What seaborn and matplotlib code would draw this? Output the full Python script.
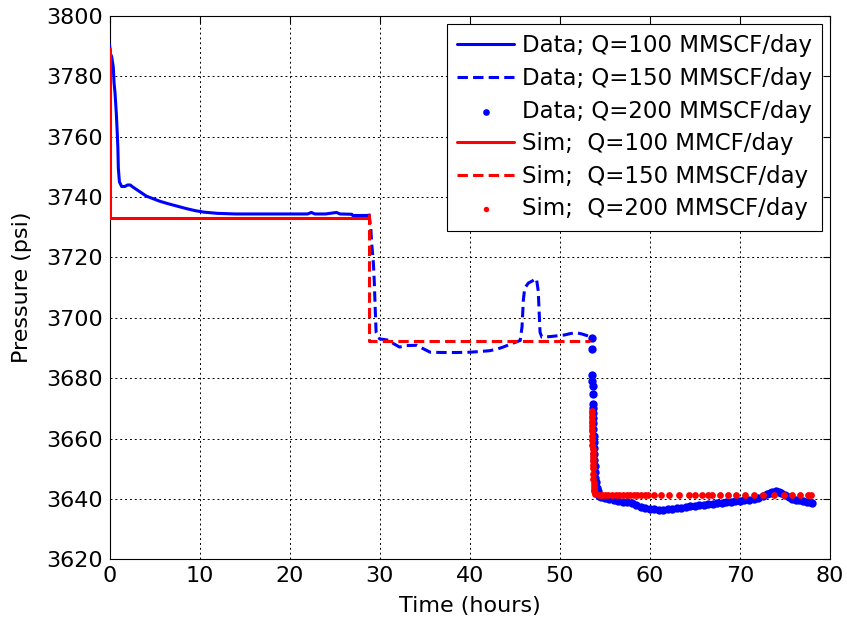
import matplotlib
matplotlib.use("Agg")
import matplotlib.pyplot as plt
import numpy as np
import pandas as pd
import seaborn as sns

# ---- measured pressure, Q = 100 MMSCF/day ----
data100_t = [0.0, 0.1, 0.24, 0.42, 0.5, 0.61, 0.75, 0.87, 0.93, 0.98, 1.1, 1.35,
             1.7, 2.0, 2.3, 2.6, 3.0, 3.5, 4.1, 4.8, 5.6, 6.5, 7.5, 8.5, 9.5,
             10.5, 12.0, 14.0, 16.0, 18.0, 20.0, 22.0, 22.4, 22.8, 24.0, 25.2,
             25.6, 26.9, 27.0, 28.0, 28.8]
data100_p = [3790.5, 3787.5, 3786.5, 3783.0, 3778.0, 3774.5, 3768.0, 3760.5,
             3756.0, 3749.5, 3745.0, 3743.5, 3743.5, 3744.0, 3744.0, 3743.3,
             3742.5, 3741.5, 3740.3, 3739.5, 3738.6, 3737.8, 3737.0, 3736.2,
             3735.5, 3735.0, 3734.6, 3734.4, 3734.4, 3734.4, 3734.4, 3734.4,
             3734.9, 3734.4, 3734.4, 3734.9, 3734.4, 3734.3, 3733.9, 3733.9,
             3733.9]

# ---- measured pressure, Q = 150 MMSCF/day ----
data150_t = [28.8, 29.0, 29.1, 29.3, 29.4, 29.5, 29.6, 30.0, 30.5, 31.1, 31.5,
             32.2, 33.0, 34.1, 35.0, 35.6, 37.0, 38.5, 40.0, 41.0, 42.2, 43.0,
             43.7, 44.8, 45.6, 45.8, 45.95, 46.1, 46.5, 47.06, 47.4, 47.6, 47.8,
             48.0, 49.0, 49.6, 50.5, 51.2, 51.9, 52.5, 53.0, 53.55]
data150_p = [3734.5, 3730.0, 3725.0, 3718.0, 3711.6, 3703.0, 3695.2, 3693.0,
             3692.8, 3692.5, 3691.5, 3690.3, 3690.8, 3690.9, 3689.5, 3688.6,
             3688.5, 3688.5, 3688.6, 3688.8, 3689.1, 3689.6, 3690.3, 3691.6,
             3692.5, 3697.0, 3706.0, 3709.8, 3711.5, 3712.4, 3713.0, 3708.9,
             3695.2, 3693.6, 3693.8, 3694.0, 3694.3, 3694.8, 3695.0, 3694.6,
             3694.1, 3693.4]

# ---- measured pressure, Q = 200 MMSCF/day ----
data200_t = [53.6, 53.6, 53.62, 53.62, 53.63, 53.64, 53.65, 53.66, 53.67, 53.68,
             53.7, 53.72, 53.74, 53.76, 53.78, 53.8, 53.83, 53.86, 53.9, 53.95,
             54.0, 54.1, 54.2,
             54.3, 54.6, 55.0, 55.5, 56.0, 56.5, 57.0, 57.5, 58.0, 58.5, 59.0,
             59.5, 60.0, 60.5, 61.0, 61.5, 62.0, 62.5, 63.0, 63.5, 64.0, 64.5,
             65.0, 65.5, 66.0, 66.5, 67.0, 67.5, 68.0, 68.5, 69.0, 69.5, 70.0,
             70.5, 71.0, 71.5, 72.0, 72.5, 73.0, 73.3, 73.6, 74.0, 74.3, 74.6,
             75.0, 75.4, 75.8, 76.2, 76.6, 77.0, 77.4, 77.8, 78.0]
data200_p = [3693.2, 3689.7, 3681.0, 3679.0, 3677.5, 3674.6, 3671.5, 3670.2,
             3668.5, 3666.8, 3665.0, 3663.0, 3661.0, 3659.0, 3657.0, 3655.0,
             3653.0, 3651.0, 3649.0, 3647.0, 3645.5, 3643.5, 3642.5,
             3641.0, 3640.6, 3640.3, 3640.0, 3639.6, 3639.2, 3639.1, 3639.0,
             3638.6, 3637.9, 3637.3, 3636.9, 3636.6, 3636.5, 3636.4, 3636.3,
             3636.5, 3636.7, 3636.9, 3637.1, 3637.3, 3637.5, 3637.7, 3637.9,
             3638.0, 3638.2, 3638.4, 3638.6, 3638.8, 3638.9, 3639.0, 3639.2,
             3639.3, 3639.5, 3639.7, 3639.9, 3640.2, 3640.8, 3641.6, 3642.1,
             3642.4, 3642.5, 3642.3, 3641.8, 3641.2, 3640.6, 3640.1, 3639.8,
             3639.5, 3639.3, 3639.1, 3638.9, 3638.8]

# ---- simulated pressure ----
sim100_t = [0.0, 0.0, 28.8]
sim100_p = [3789.0, 3733.1, 3733.1]

sim150_t = [28.8, 28.8, 53.35]
sim150_p = [3734.5, 3692.4, 3692.4]

sim200_t = [53.55, 53.56, 53.57, 53.58, 53.59, 53.60, 53.61, 53.62, 53.63,
            53.64, 53.65, 53.66, 53.67, 53.68, 53.70, 53.72, 53.74, 53.77,
            53.80, 53.84, 53.88, 53.93,
            54.0, 54.4, 54.7, 55.0, 55.4, 55.8, 56.2, 56.6, 57.0, 57.4, 57.8,
            58.2, 58.6, 59.0, 59.4, 59.8, 60.4, 61.2, 62.1, 63.2, 64.3, 65.0,
            65.8, 66.4, 66.9, 67.8, 68.7, 69.6, 70.6, 71.6, 72.6, 73.8, 74.9,
            75.8, 76.7, 77.5, 77.9]
sim200_p = [3669.2, 3667.5, 3665.8, 3664.1, 3662.5, 3660.9, 3659.4, 3657.9,
            3656.5, 3655.1, 3653.8, 3652.5, 3651.3, 3650.1, 3648.2, 3646.6,
            3645.3, 3644.2, 3643.3, 3642.6, 3642.1, 3641.7,
            3641.5, 3641.4, 3641.4, 3641.3, 3641.3, 3641.3, 3641.3, 3641.3,
            3641.3, 3641.3, 3641.3, 3641.3, 3641.3, 3641.3, 3641.3, 3641.3,
            3641.3, 3641.3, 3641.3, 3641.3, 3641.3, 3641.3, 3641.3, 3641.3,
            3641.3, 3641.3, 3641.3, 3641.3, 3641.3, 3641.3, 3641.3, 3641.3,
            3641.3, 3641.3, 3641.3, 3641.3, 3641.3]

x_ticks = [0, 10, 20, 30, 40, 50, 60, 70, 80]
y_ticks = [3620, 3640, 3660, 3680, 3700, 3720, 3740, 3760, 3780, 3800]

labels = ["Data; Q=100 MMSCF/day", "Data; Q=150 MMSCF/day",
          "Data; Q=200 MMSCF/day", "Sim;  Q=100 MMCF/day",
          "Sim;  Q=150 MMSCF/day", "Sim;  Q=200 MMSCF/day"]

sns.set_style("white")
plt.rcParams["font.family"] = ["DejaVu Sans"]
plt.rcParams["text.color"] = "black"
plt.rcParams["axes.labelcolor"] = "black"
plt.rcParams["xtick.color"] = "black"
plt.rcParams["ytick.color"] = "black"
plt.rcParams["axes.edgecolor"] = "black"
plt.rcParams["axes.linewidth"] = 0.8

fig = plt.figure(figsize=(8.47, 6.21), dpi=100)
ax = fig.add_axes([0.1293, 0.0994, 0.8507, 0.8749])

BLUE = "#0000FF"
RED = "#FF0000"
LW = 2.2
DASH = (0, (3.4, 1.7))

sns.lineplot(x=data100_t, y=data100_p, ax=ax, color=BLUE, lw=LW,
             estimator=None, sort=False, label=labels[0], zorder=3)
sns.lineplot(x=data150_t, y=data150_p, ax=ax, color=BLUE, lw=LW,
             linestyle=DASH, estimator=None, sort=False, label=labels[1],
             zorder=3)
sns.scatterplot(x=data200_t, y=data200_p, ax=ax, color=BLUE, s=36,
                linewidth=0, label=labels[2], zorder=3)
sns.lineplot(x=sim100_t, y=sim100_p, ax=ax, color=RED, lw=LW,
             estimator=None, sort=False, label=labels[3], zorder=4)
sns.lineplot(x=sim150_t, y=sim150_p, ax=ax, color=RED, lw=LW,
             linestyle=DASH, estimator=None, sort=False, label=labels[4],
             zorder=4)
sns.scatterplot(x=sim200_t, y=sim200_p, ax=ax, color=RED, s=24,
                linewidth=0, label=labels[5], zorder=4)

ax.set_xlim(0, 80)
ax.set_ylim(3620, 3800)
ax.set_xticks(x_ticks)
ax.set_yticks(y_ticks)
ax.grid(True, color="black", linestyle=(0, (2, 3)), linewidth=0.7)
ax.set_axisbelow(True)
for side in ["top", "right", "left", "bottom"]:
    ax.spines[side].set_visible(True)
    ax.spines[side].set_color("black")
    ax.spines[side].set_linewidth(0.8)
ax.tick_params(direction="in", top=True, right=True, length=5, width=0.8,
               labelsize=16, pad=5, colors="black")

ax.set_xlabel("Time (hours)", fontsize=16, labelpad=7)
ax.set_ylabel("Pressure (psi)", fontsize=16, labelpad=10)

leg = ax.legend(loc="upper right", fontsize=16.5, frameon=True, fancybox=False,
                edgecolor="black", framealpha=1, handlelength=2.45,
                handletextpad=0.35, labelspacing=0.42, borderpad=0.45,
                borderaxespad=0.35, markerscale=0.8)
leg.get_frame().set_linewidth(0.8)

fig.savefig("out.png", dpi=100)
